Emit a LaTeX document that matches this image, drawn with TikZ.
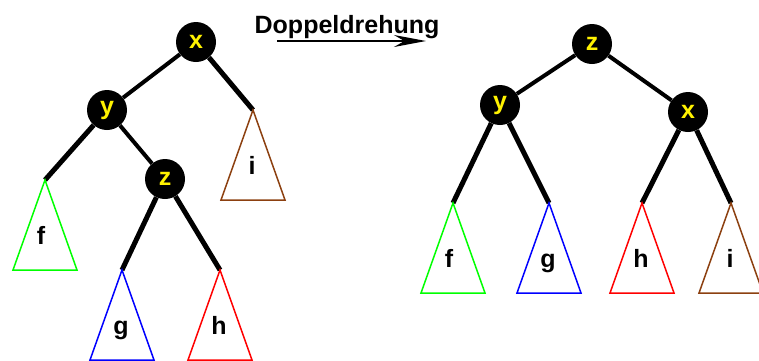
\documentclass[tikz,border=0pt]{standalone}
\usepackage{fontspec}
\setmainfont{Liberation Sans}
\usepackage{xcolor}
\usepackage{tikz}
\usetikzlibrary{positioning}
\usetikzlibrary{arrows.meta}

\definecolor{braun}{RGB}{140,64,16}

\tikzset{
	knoten/.style={circle, fill=black, minimum size=40pt, inner sep=0pt, text=yellow, font=\fontsize{25}{25}\selectfont\bfseries},
	kante/.style={line width=4pt},
	ast/.style={line width=5pt},
	blatt/.style={font=\fontsize{25}{25}\selectfont\bfseries, anchor=base, inner sep=0pt}
}

% subtree: [label x offset] apex coordinate, colour, label
\newcommand{\teilbaum}[4][-1]{
	\draw[#3, line width=1.5pt] (#2) -- ++(-32,90) -- ++(64,0) -- cycle;
	\node[blatt] (#2-txt) at ([shift={(#1,64)}]#2) {#4};
}

\begin{document}
\begin{tikzpicture}[x=1pt, y=-1pt]
		\useasboundingbox (0,0) rectangle (759,360);

		% Left tree
		\node[knoten] (xl) at (196,42) {x};
		\node[knoten] (yl) at (107,110) {y};
		\node[knoten] (zl) at (165,179) {z};

		\coordinate (fl) at (45,180);
		\coordinate (il) at (253,110);
		\coordinate (gl) at (122,270);
		\coordinate (hl) at (220,270);

		\draw[kante] (xl) -- (yl);
		\draw[kante] (yl) -- (zl);
		\draw[ast] (xl) -- (il);
		\draw[ast] (yl) -- (fl);
		\draw[ast] (zl) -- (gl);
		\draw[ast] (zl) -- (hl);

		\teilbaum[-4]{fl}{green}{f}
		\teilbaum{il}{braun}{i}
		\teilbaum{gl}{blue}{g}
		\teilbaum{hl}{red}{h}

		% Rotation arrow
		\node[blatt] (titel) at (347,33) {Doppeldrehung};
		\coordinate (pfeilA) at (277,41);
		\coordinate (pfeilB) at (426,41);
		\draw[line width=2pt, -{Stealth[length=32pt, width=12pt]}] (pfeilA) -- (pfeilB);

		% Right tree
		\node[knoten] (zr) at (592,44) {z};
		\node[knoten] (yr) at (500,105) {y};
		\node[knoten] (xr) at (688,112) {x};

		\coordinate (fr) at (453,203);
		\coordinate (gr) at (549,203);
		\coordinate (hr) at (642,203);
		\coordinate (ir) at (731,203);

		\draw[kante] (zr) -- (yr);
		\draw[kante] (zr) -- (xr);
		\draw[ast] (yr) -- (fr);
		\draw[ast] (yr) -- (gr);
		\draw[ast] (xr) -- (hr);
		\draw[ast] (xr) -- (ir);

		\teilbaum[-4]{fr}{green}{f}
		\teilbaum{gr}{blue}{g}
		\teilbaum{hr}{red}{h}
		\teilbaum{ir}{braun}{i}
	\end{tikzpicture}
\end{document}
